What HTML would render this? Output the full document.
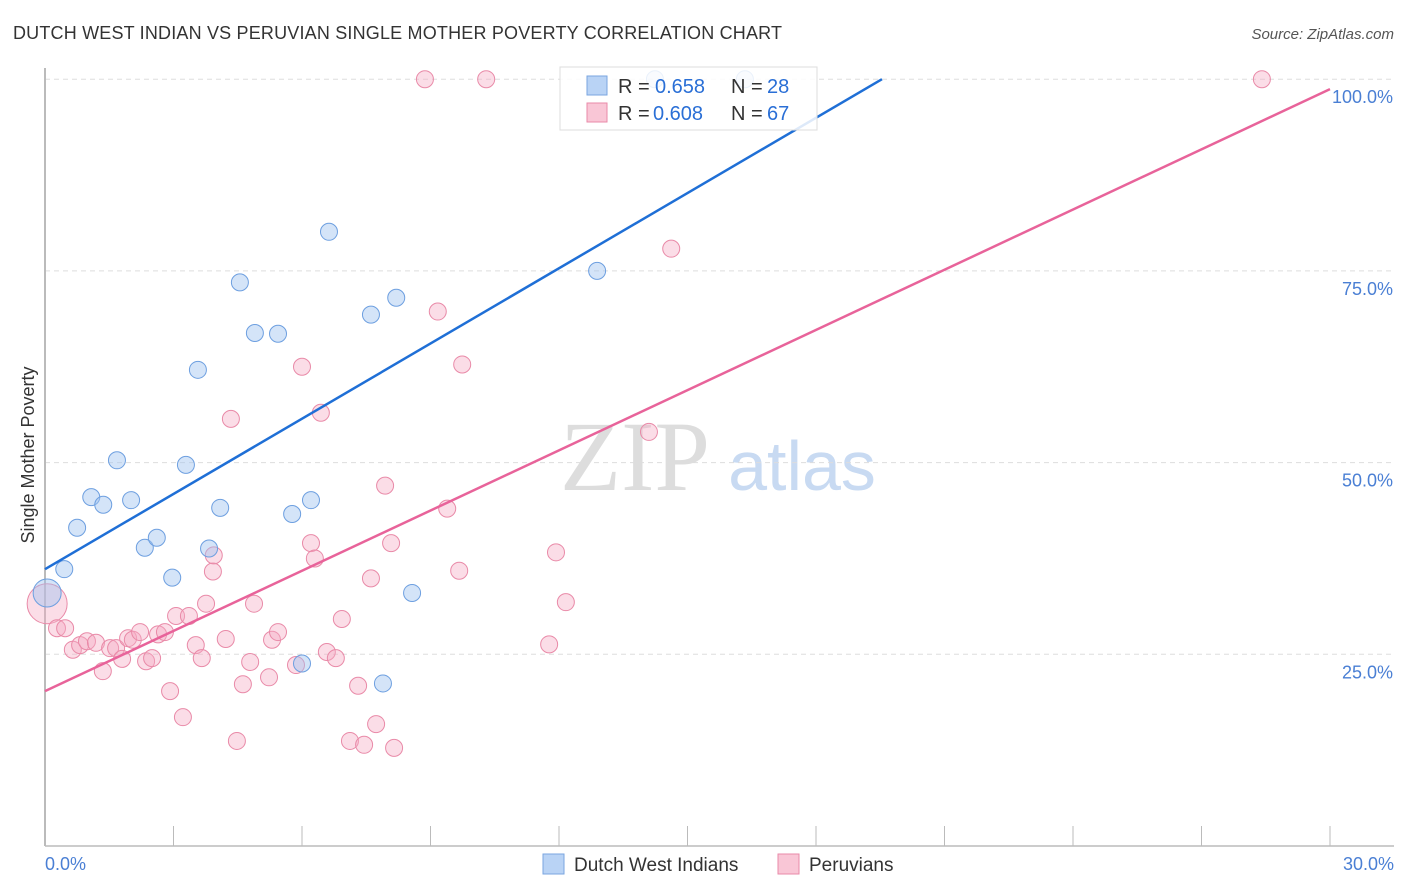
<!DOCTYPE html>
<html><head><meta charset="utf-8"><style>
body{margin:0;background:#fff;font-family:"Liberation Sans",sans-serif}
svg{display:block}
</style></head><body>
<svg id="chart" width="1406" height="892" xmlns="http://www.w3.org/2000/svg">
<text x="13" y="39" font-size="18" fill="#333" textLength="769">DUTCH WEST INDIAN VS PERUVIAN SINGLE MOTHER POVERTY CORRELATION CHART</text>
<text x="1394" y="39" font-size="15" fill="#555" text-anchor="end" font-style="italic">Source: ZipAtlas.com</text>
<text transform="translate(34,455) rotate(-90)" font-size="18" fill="#333" text-anchor="middle">Single Mother Poverty</text>
<g>
<text x="635" y="490" font-size="100" fill="#ddd" text-anchor="middle" font-family="Liberation Serif,serif">ZIP</text>
<text x="802" y="490" font-size="70" fill="#c8daf2" text-anchor="middle">atlas</text>
</g>
<g id="grid"></g><g id="axes"></g><g id="pts"></g><g id="lines"></g>
<g>
<rect x="560" y="67" width="257" height="63" fill="#fff" fill-opacity="0.85" stroke="#ddd"/>
<rect x="587" y="76" width="20" height="19" fill="#b9d3f5" stroke="#7aa6e0"/>
<rect x="587" y="103" width="20" height="19" fill="#f9c6d6" stroke="#e98aa8"/>
<text x="618" y="93" font-size="20" fill="#333">R =</text>
<text x="655" y="93" font-size="20" fill="#2a6fd6">0.658</text>
<text x="731" y="93" font-size="20" fill="#333">N =</text>
<text x="767" y="93" font-size="20" fill="#2a6fd6">28</text>
<text x="618" y="120" font-size="20" fill="#333">R =</text>
<text x="653" y="120" font-size="20" fill="#2a6fd6">0.608</text>
<text x="731" y="120" font-size="20" fill="#333">N =</text>
<text x="767" y="120" font-size="20" fill="#2a6fd6">67</text>
</g>
<g>
<rect x="543" y="854" width="21" height="20" fill="#b9d3f5" stroke="#7aa6e0"/>
<text x="574" y="871" font-size="19" fill="#333">Dutch West Indians</text>
<rect x="778" y="854" width="21" height="20" fill="#f9c6d6" stroke="#e98aa8"/>
<text x="809" y="871" font-size="19" fill="#333">Peruvians</text>
</g>
</svg>
<script>
const yTicks=[25,50,75,100];
const yTickLabels=["25.0%","50.0%","75.0%","100.0%"];
const xTicks=[0,3,6,9,12,15,18,21,24,27,30];
const blueX=[0.05,0.45,0.75,1.08,1.36,1.68,2.01,2.33,2.61,2.97,3.29,3.57,3.83,4.09,4.55,4.9,5.44,5.77,6.0,6.21,6.63,7.61,8.2,8.57,7.89,12.89,14.24,16.34];
const blueY=[33.0,36.1,41.5,45.5,44.5,50.3,45.1,38.9,40.2,35.0,49.7,62.1,38.8,44.1,73.5,66.9,66.8,43.3,23.8,45.1,80.1,69.3,71.5,33.0,21.2,75.0,100,100];
const pinkX=[0.05,0.28,0.47,0.65,0.82,0.98,1.19,1.35,1.52,1.66,1.8,1.94,2.05,2.22,2.36,2.5,2.64,2.8,2.92,3.06,3.22,3.36,3.52,3.66,3.76,3.92,3.94,4.22,4.34,4.48,4.62,4.79,4.88,5.23,5.3,5.44,5.86,6.0,6.21,6.3,6.44,6.58,6.79,6.93,7.12,7.31,7.45,7.61,7.73,7.94,8.08,8.15,8.87,9.17,9.39,9.67,9.74,10.3,11.77,11.93,12.16,14.1,14.62,28.41];
const pinkY=[31.6,28.4,28.4,25.6,26.2,26.7,26.5,22.8,25.8,25.8,24.4,27.1,26.9,27.9,24.1,24.5,27.6,27.9,20.2,30.0,16.8,30.0,26.2,24.5,31.6,35.8,37.9,27.0,55.7,13.7,21.1,24.0,31.6,22.0,26.9,27.9,23.6,62.5,39.5,37.5,56.5,25.3,24.5,29.6,13.7,20.9,13.2,34.9,15.9,47.0,39.5,12.8,100,69.7,44.0,35.9,62.8,100,26.3,38.3,31.8,54.0,77.9,100];
const NS="http://www.w3.org/2000/svg";
const X=v=>45+v*42.833, Y=v=>846-v*7.668;
function mk(t,a,p){const e=document.createElementNS(NS,t);for(const k in a)e.setAttribute(k,a[k]);p.appendChild(e);return e;}
const grid=document.getElementById('grid'),axes=document.getElementById('axes');
yTicks.forEach((v,i)=>{
 const l=mk('line',{x1:45,x2:1394,y1:Y(v),y2:Y(v),stroke:'#ddd','stroke-dasharray':'5,4'},grid);
 
 
 const t=mk('text',{x:1393,y:Y(v)+24,'font-size':18,fill:'#4a7fd4','text-anchor':'end'},axes);
 t.textContent=yTickLabels[i];
 
 
});
const ax=mk('line',{x1:45,x2:45,y1:68,y2:846,stroke:'#bbb','stroke-width':2},axes);


const bx=mk('line',{x1:45,x2:1394,y1:846,y2:846,stroke:'#bbb','stroke-width':1.5},axes);


xTicks.forEach(v=>{const t=mk('line',{x1:X(v),x2:X(v),y1:826,y2:846,stroke:'#bbb'},axes);
 
 });
[[0,"0.0%",'start',45],[30,"30.0%",'end',1394]].forEach(d=>{const t=mk('text',{x:d[3],y:870,'font-size':18,fill:'#4a7fd4','text-anchor':d[2]},axes);t.textContent=d[1];
 
 });
const pts=document.getElementById('pts');
pinkX.forEach((x,i)=>{const c=mk('circle',{cx:X(x),cy:Y(pinkY[i]),r:i==0?20:8.5,fill:'rgba(246,170,195,0.4)',stroke:'#e98aa8','stroke-width':1},pts);
 
 });
blueX.forEach((x,i)=>{const c=mk('circle',{cx:X(x),cy:Y(blueY[i]),r:i==0?14:8.5,fill:'rgba(160,196,240,0.45)',stroke:'#6d9fe0','stroke-width':1},pts);
 
 });
const lines=document.getElementById('lines');
const bl=mk('line',{x1:X(0),y1:Y(36.1),x2:X(19.54),y2:Y(100),stroke:'#1f6fd6','stroke-width':2.5},lines);


const pl=mk('line',{x1:X(0),y1:Y(20.2),x2:X(30),y2:Y(98.7),stroke:'#e8639a','stroke-width':2.5},lines);


</script>
</body></html>
